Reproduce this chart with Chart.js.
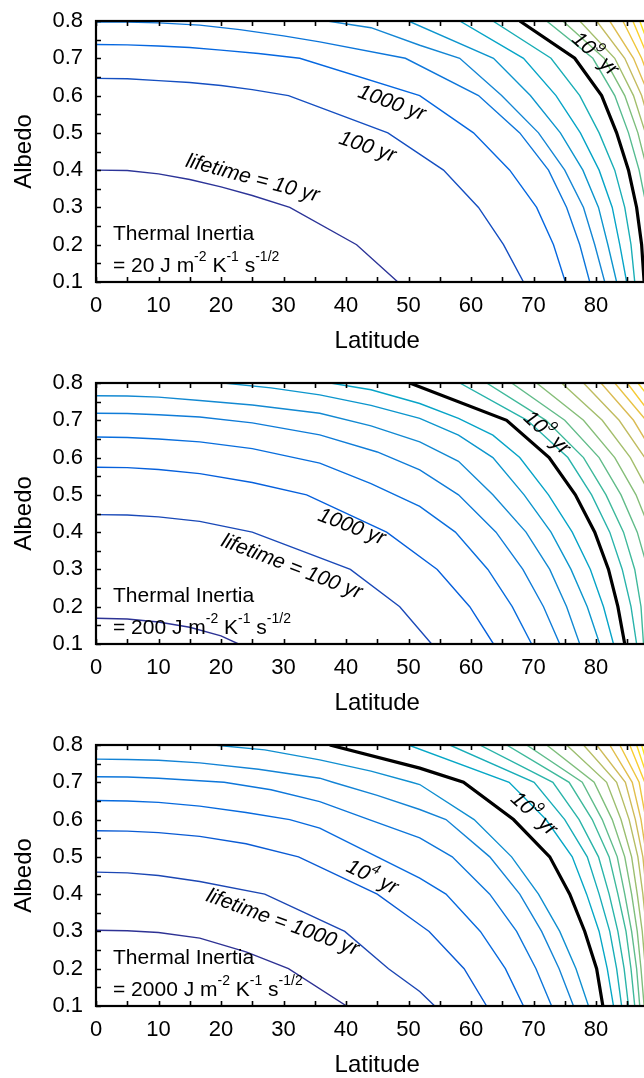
<!DOCTYPE html>
<html>
<head>
<meta charset="utf-8">
<script src="https://cdn.jsdelivr.net/npm/chart.js@4.4.0/dist/chart.umd.min.js"></script>
<style>
  html, body { margin: 0; padding: 0; background: #fff; overflow: hidden; width: 644px; height: 1078px; }
  .panel { position: absolute; left: 0; width: 700px; height: 360px; }
  canvas { display: block; }
</style>
</head>
<body>
<div class="panel" style="top:0px"><canvas id="c1" width="700" height="360"></canvas></div>
<div class="panel" style="top:362px"><canvas id="c2" width="700" height="360"></canvas></div>
<div class="panel" style="top:724px"><canvas id="c3" width="700" height="360"></canvas></div>
<script>
// axes
const latTicks = [0, 10, 20, 30, 40, 50, 60, 70, 80, 90];
const latMinor = [5, 15, 25, 35, 45, 55, 65, 75, 85];
const albedoTicks = [0.1, 0.2, 0.3, 0.4, 0.5, 0.6, 0.7, 0.8];
const albedoMinor = [0.15, 0.25, 0.35, 0.45, 0.55, 0.65, 0.75];

// contours, lifetime = 10^level yr, each line is [latitude, albedo] pairs
// thermal inertia 20
const ti20Levels = [1, 2, 3, 4, 5, 6, 7, 8, 9, 10, 11, 12, 13, 14, 15, 16, 17, 18];
const ti20Lines = [
  [[0,0.400],[5,0.399],[10,0.390],[15,0.375],[20,0.355],[25,0.332],[31,0.300],[41.7,0.200],[48.3,0.100]],
  [[0,0.646],[5,0.645],[10,0.640],[15,0.635],[20,0.627],[25,0.616],[30.8,0.600],[46.7,0.500],[55.6,0.400],[61.2,0.300],[65.2,0.200],[68.4,0.100]],
  [[0,0.737],[5,0.736],[10,0.733],[15,0.729],[20,0.722],[26,0.713],[32.6,0.700],[51.8,0.600],[60.4,0.500],[66.2,0.400],[70.5,0.300],[73.2,0.200],[75.1,0.100]],
  [[0,0.797],[5,0.797],[10,0.795],[16.6,0.789],[23,0.777],[30,0.760],[35.8,0.744],[49.5,0.700],[61.2,0.600],[67.8,0.500],[72.4,0.400],[75.3,0.300],[77.4,0.200],[79.0,0.100]],
  [[37,0.800],[44,0.782],[51.8,0.735],[58.2,0.700],[64.9,0.600],[70.8,0.500],[75.0,0.400],[78.0,0.300],[79.8,0.200],[81.4,0.100]],
  [[50,0.800],[63.6,0.700],[69.5,0.600],[74.3,0.500],[77.9,0.400],[80.4,0.300],[81.9,0.200],[83.3,0.100]],
  [[58.2,0.800],[68.4,0.700],[73.6,0.600],[77.5,0.500],[80.5,0.400],[82.6,0.300],[83.8,0.200],[84.9,0.100]],
  [[63.5,0.800],[72.8,0.700],[77.4,0.600],[80.5,0.500],[83.0,0.400],[84.6,0.300],[85.6,0.200],[86.2,0.100]],
  [[67.8,0.800],[76.6,0.700],[80.9,0.600],[83.3,0.500],[85.2,0.400],[86.5,0.300],[87.3,0.200],[87.7,0.100]],
  [[72.1,0.800],[79.5,0.700],[83.0,0.600],[85.2,0.500],[86.9,0.400],[88.1,0.300],[88.8,0.200],[89.2,0.100]],
  [[74.7,0.800],[81.3,0.700],[84.6,0.600],[86.7,0.500],[88.2,0.400],[89.2,0.300],[89.7,0.200],[90,0.150]],
  [[77.4,0.800],[83.0,0.700],[86.0,0.600],[87.9,0.500],[89.3,0.400],[90,0.330]],
  [[80.1,0.800],[84.6,0.700],[87.3,0.600],[89.0,0.500],[90,0.440]],
  [[82.2,0.800],[86.0,0.700],[88.5,0.600],[90,0.530]],
  [[84.3,0.800],[87.3,0.700],[89.5,0.600],[90,0.580]],
  [[85.9,0.800],[88.4,0.700],[90,0.630]],
  [[87.0,0.800],[89.2,0.700],[90,0.660]],
  [[88.0,0.800],[90,0.720]]
];

// thermal inertia 200
const ti200Levels = [1, 2, 3, 4, 5, 6, 7, 8, 9, 10, 11, 12, 13, 14, 15, 16, 17, 18, 19, 20];
const ti200Lines = [
  [[0,0.169],[5,0.167],[10,0.159],[15,0.145],[20,0.122],[22.8,0.100]],
  [[0,0.447],[5,0.446],[10,0.441],[16.6,0.429],[25,0.400],[40.7,0.300],[48.6,0.200],[53.7,0.100]],
  [[0,0.574],[5,0.573],[10,0.568],[16.6,0.557],[25,0.533],[33.7,0.500],[46.5,0.400],[54.6,0.300],[59.8,0.200],[63.6,0.100]],
  [[0,0.655],[5,0.654],[10,0.650],[16.6,0.642],[25,0.624],[35.8,0.585],[44,0.530],[51.8,0.469],[57.5,0.400],[62.7,0.300],[66.6,0.200],[69.7,0.100]],
  [[0,0.719],[5,0.718],[10,0.715],[16.6,0.709],[25,0.693],[35.8,0.661],[45,0.615],[51.8,0.567],[58,0.500],[64,0.400],[68.3,0.300],[71.6,0.200],[74.2,0.100]],
  [[0,0.766],[5,0.765],[10,0.762],[16.6,0.753],[25,0.741],[35.8,0.719],[44,0.685],[51.8,0.642],[58,0.590],[63.5,0.500],[68.8,0.400],[72.6,0.300],[75.3,0.200],[77.4,0.100]],
  [[20.4,0.800],[28,0.787],[35.8,0.768],[44,0.740],[51.8,0.705],[58,0.660],[63.5,0.600],[68.5,0.500],[72.8,0.400],[76,0.300],[78.6,0.200],[80.6,0.100]],
  [[37.5,0.800],[44,0.782],[51.8,0.745],[58,0.705],[63.5,0.660],[67.8,0.600],[72.4,0.500],[76.2,0.400],[79.1,0.300],[81.2,0.200],[82.8,0.100]],
  [[50.2,0.800],[65.7,0.700],[72.5,0.600],[76.7,0.500],[79.8,0.400],[82.0,0.300],[83.5,0.200],[84.6,0.100]],
  [[58.2,0.800],[69,0.700],[75.5,0.600],[79.3,0.500],[82.2,0.400],[84.2,0.300],[85.6,0.200],[86.5,0.100]],
  [[62.5,0.800],[72,0.700],[78,0.600],[81.6,0.500],[84.4,0.400],[86.2,0.300],[87.2,0.200],[87.6,0.100]],
  [[66.5,0.800],[75,0.700],[80.5,0.600],[84,0.500],[86.6,0.400],[88.3,0.300],[89.2,0.200],[89.6,0.100]],
  [[70.5,0.800],[78,0.700],[83,0.600],[86.4,0.500],[88.8,0.400],[90,0.330]],
  [[74.5,0.800],[81,0.700],[85.5,0.600],[88.7,0.500],[90,0.450]],
  [[78,0.800],[83.7,0.700],[87.8,0.600],[90,0.540]],
  [[80.8,0.800],[86,0.700],[89.6,0.600],[90,0.590]],
  [[83,0.800],[88,0.700],[90,0.650]],
  [[85,0.800],[89.5,0.700],[90,0.690]],
  [[86.7,0.800],[90,0.730]],
  [[88,0.800],[90,0.760]]
];

// thermal inertia 2000
const ti2000Levels = [2, 3, 4, 5, 6, 7, 8, 9, 10, 11, 12, 13, 14, 15, 16, 17, 18, 19, 20, 21, 22, 23, 24];
const ti2000Lines = [
  [[0,0.303],[5,0.302],[10,0.297],[16.6,0.282],[24,0.245],[30.8,0.200],[40.1,0.100]],
  [[0,0.459],[5,0.457],[10,0.450],[16.6,0.434],[27,0.400],[39.8,0.300],[46.8,0.200],[51.8,0.139],[54.2,0.100]],
  [[0,0.570],[5,0.569],[10,0.565],[16.6,0.555],[24,0.535],[32.4,0.500],[45,0.400],[51.8,0.318],[53.3,0.300],[58.9,0.200],[62.5,0.100]],
  [[0,0.651],[5,0.650],[10,0.646],[16.6,0.636],[24,0.619],[31,0.600],[35.8,0.577],[45,0.500],[51.8,0.443],[56,0.400],[61.5,0.300],[65.5,0.200],[68.4,0.100]],
  [[0,0.715],[5,0.714],[10,0.711],[20.5,0.700],[28,0.680],[35.8,0.648],[43.7,0.600],[51.8,0.551],[57,0.500],[63,0.400],[67.3,0.300],[70.4,0.200],[72.9,0.100]],
  [[0,0.762],[5,0.761],[10,0.759],[16.6,0.752],[26,0.735],[35.8,0.711],[37.9,0.700],[45,0.665],[51.8,0.627],[56,0.600],[63,0.500],[67.8,0.400],[71.3,0.300],[74.1,0.200],[76.4,0.100]],
  [[18.8,0.800],[27,0.787],[35.8,0.760],[44,0.730],[50.5,0.700],[51.8,0.694],[60.5,0.600],[66.5,0.500],[70.8,0.400],[74.2,0.300],[76.8,0.200],[78.8,0.100]],
  [[37.4,0.800],[51.8,0.738],[58.8,0.700],[66.8,0.600],[72.6,0.500],[75.8,0.400],[78.2,0.300],[80.1,0.200],[81.1,0.100]],
  [[50.0,0.800],[66.1,0.700],[72.0,0.600],[76.2,0.500],[78.5,0.400],[80.5,0.300],[81.8,0.200],[82.8,0.100]],
  [[56.6,0.800],[70.1,0.700],[75.0,0.600],[78.6,0.500],[80.5,0.400],[82.2,0.300],[83.3,0.200],[84.1,0.100]],
  [[61.4,0.800],[73.1,0.700],[77.3,0.600],[80.4,0.500],[82.1,0.400],[83.5,0.300],[84.5,0.200],[85.2,0.100]],
  [[65.7,0.800],[75.7,0.700],[79.4,0.600],[82.1,0.500],[83.5,0.400],[84.8,0.300],[85.6,0.200],[86.2,0.100]],
  [[68.9,0.800],[77.8,0.700],[81.0,0.600],[83.4,0.500],[84.6,0.400],[85.7,0.300],[86.5,0.200],[87.0,0.100]],
  [[72.1,0.800],[79.7,0.700],[82.6,0.600],[84.6,0.500],[85.7,0.400],[86.6,0.300],[87.2,0.200],[87.7,0.100]],
  [[75.3,0.800],[81.7,0.700],[84.0,0.600],[85.7,0.500],[86.6,0.400],[87.4,0.300],[87.9,0.200],[88.3,0.100]],
  [[78.0,0.800],[83.3,0.700],[85.3,0.600],[86.7,0.500],[87.5,0.400],[88.1,0.300],[88.6,0.200],[88.9,0.100]],
  [[80.1,0.800],[84.7,0.700],[86.3,0.600],[87.5,0.500],[88.1,0.400],[88.7,0.300],[89.0,0.200],[89.3,0.100]],
  [[82.2,0.800],[85.8,0.700],[87.2,0.600],[88.1,0.500],[88.6,0.400],[89.1,0.300],[89.4,0.200],[89.6,0.100]],
  [[83.8,0.800],[86.9,0.700],[88.0,0.600],[88.7,0.500],[89.1,0.400],[89.4,0.300],[89.7,0.200],[89.8,0.100]],
  [[85.4,0.800],[87.8,0.700],[88.6,0.600],[89.1,0.500],[89.5,0.400],[89.8,0.300],[90,0.220]],
  [[86.5,0.800],[88.5,0.700],[89.2,0.600],[89.6,0.500],[90,0.380]],
  [[87.3,0.800],[89.0,0.700],[89.6,0.600],[90,0.520]],
  [[88.0,0.800],[89.4,0.700],[90,0.610]]
];

// line labels (text, placed at latitude/albedo)
const ti20Labels = [
  { text: "lifetime = 10 yr", lat: 25.1, alb: 0.382, angle: 15 },
  { text: "100 yr", lat: 43.5, alb: 0.466, angle: 19 },
  { text: "1000 yr", lat: 47.4, alb: 0.584, angle: 20 },
  { text: "10^{9} yr", lat: 80.0, alb: 0.714, angle: 42 }
];
const ti200Labels = [
  { text: "lifetime = 100 yr", lat: 31.4, alb: 0.311, angle: 21 },
  { text: "1000 yr", lat: 41.0, alb: 0.418, angle: 21 },
  { text: "10^{9} yr", lat: 72.3, alb: 0.669, angle: 42 }
];
const ti2000Labels = [
  { text: "lifetime = 1000 yr", lat: 29.9, alb: 0.328, angle: 20 },
  { text: "10^{4} yr", lat: 44.3, alb: 0.449, angle: 26 },
  { text: "10^{9} yr", lat: 70.2, alb: 0.618, angle: 42 }
];

const FONT = '"Liberation Sans", Arial, Helvetica, sans-serif';
const parula = ['#352a87', '#0363e1', '#1485d4', '#06a7c6', '#38b99e', '#92bf73', '#d9ba56', '#fcce2e', '#f9fb0e'];

function hexToRgb(h) {
  return [parseInt(h.slice(1, 3), 16), parseInt(h.slice(3, 5), 16), parseInt(h.slice(5, 7), 16)];
}

function levelColor(level, lo, hi) {
  let t = (level - lo) / (hi - lo);
  t = Math.max(0, Math.min(1, t));
  const pos = t * (parula.length - 1);
  const i = Math.min(Math.floor(pos), parula.length - 2);
  const f = pos - i;
  const a = hexToRgb(parula[i]), b = hexToRgb(parula[i + 1]);
  const c = a.map((v, k) => Math.round(v + (b[k] - v) * f));
  return `rgb(${c[0]},${c[1]},${c[2]})`;
}

// split "m^{-2}" style text into normal / superscript parts
function parseRich(str) {
  const parts = [];
  const re = /\^\{([^}]*)\}/g;
  let last = 0, m;
  while ((m = re.exec(str)) !== null) {
    if (m.index > last) parts.push({ t: str.slice(last, m.index) });
    parts.push({ t: m[1], sup: true });
    last = re.lastIndex;
  }
  if (last < str.length) parts.push({ t: str.slice(last) });
  return parts;
}

function drawRich(ctx, str, x, y, angle, size, italic, align) {
  const parts = parseRich(str);
  const base = (italic ? 'italic ' : '') + size + 'px ' + FONT;
  const sup = (italic ? 'italic ' : '') + Math.round(size * 0.68) + 'px ' + FONT;
  let w = 0;
  parts.forEach(p => { ctx.font = p.sup ? sup : base; p.w = ctx.measureText(p.t).width; w += p.w; });
  ctx.save();
  ctx.translate(x, y);
  ctx.rotate(angle * Math.PI / 180);
  ctx.fillStyle = '#000';
  ctx.textBaseline = 'alphabetic';
  ctx.textAlign = 'left';
  let cx = align === 'left' ? 0 : -w / 2;
  const by = align === 'left' ? 0 : size * 0.36;
  parts.forEach(p => {
    ctx.font = p.sup ? sup : base;
    ctx.fillText(p.t, cx, p.sup ? by - size * 0.5 : by);
    cx += p.w;
  });
  ctx.restore();
}

// inward ticks, frame, labels
const decorPlugin = {
  id: 'decor',
  afterDatasetsDraw(chart, args, opts) {
    const { ctx, chartArea: a, scales: { x, y } } = chart;
    ctx.save();
    ctx.strokeStyle = '#000';
    ctx.lineWidth = 1.6;
    ctx.beginPath();
    latTicks.concat(latMinor).forEach(v => {
      const px = Math.round(x.getPixelForValue(v)) + 0.5;
      ctx.moveTo(px, a.bottom); ctx.lineTo(px, a.bottom - 5);
      ctx.moveTo(px, a.top); ctx.lineTo(px, a.top + 5);
    });
    albedoTicks.concat(albedoMinor).forEach(v => {
      const py = Math.round(y.getPixelForValue(v)) + 0.5;
      ctx.moveTo(a.left, py); ctx.lineTo(a.left + 5, py);
      ctx.moveTo(a.right, py); ctx.lineTo(a.right - 5, py);
    });
    ctx.stroke();
    ctx.lineWidth = 2.2;
    ctx.strokeRect(a.left, a.top, a.right - a.left, a.bottom - a.top);
    ctx.restore();

    opts.labels.forEach(l => {
      drawRich(ctx, l.text, x.getPixelForValue(l.lat), y.getPixelForValue(l.alb), l.angle, 21, true, 'center');
    });
    drawRich(ctx, 'Thermal Inertia', a.left + 17, a.top + 219, 0, 21, false, 'left');
    drawRich(ctx, '= ' + opts.inertia + ' J m^{-2} K^{-1} s^{-1/2}', a.left + 17, a.top + 250.5, 0, 21, false, 'left');
  }
};

function makePanel(id, levels, lines, colorRange, labels, inertia) {
  const datasets = lines.map((pts, i) => {
    const lv = levels[i];
    const black = lv === 9;
    return {
      data: pts.map(p => ({ x: p[0], y: p[1] })),
      showLine: true,
      borderColor: black ? '#000' : levelColor(lv, colorRange[0], colorRange[1]),
      borderWidth: black ? 3.2 : 1.4,
      pointRadius: 0,
      pointHoverRadius: 0,
      tension: 0,
      fill: false,
      order: black ? 0 : 1
    };
  });

  new Chart(document.getElementById(id), {
    type: 'scatter',
    data: { datasets },
    options: {
      responsive: false,
      animation: false,
      devicePixelRatio: 1,
      layout: { autoPadding: false, padding: { top: 21, left: 0, right: 41.5, bottom: 0 } },
      plugins: {
        legend: { display: false },
        tooltip: { enabled: false },
        decor: { labels, inertia }
      },
      scales: {
        x: {
          type: 'linear', min: 0, max: 90,
          grid: { display: false, drawTicks: false },
          border: { display: false },
          afterBuildTicks: s => { s.ticks = latTicks.map(v => ({ value: v })); },
          afterFit: s => { s.height = 78; s.paddingLeft = 0; s.paddingRight = 0; },
          ticks: { color: '#000', font: { size: 22, family: FONT }, padding: 11, autoSkip: false, maxRotation: 0 },
          title: { display: true, text: 'Latitude', color: '#000', font: { size: 24, family: FONT }, padding: { top: 0, bottom: 4 } }
        },
        y: {
          type: 'linear', min: 0.1, max: 0.8,
          grid: { display: false, drawTicks: false },
          border: { display: false },
          afterBuildTicks: s => { s.ticks = albedoTicks.map(v => ({ value: v })); },
          afterFit: s => { s.width = 96; s.paddingTop = 0; s.paddingBottom = 0; },
          ticks: { color: '#000', font: { size: 22, family: FONT }, padding: 13, callback: v => v.toFixed(1) },
          title: { display: true, text: 'Albedo', color: '#000', font: { size: 24, family: FONT }, padding: { top: 10, bottom: 0 } }
        }
      }
    },
    plugins: [decorPlugin]
  });
}

makePanel('c1', ti20Levels, ti20Lines, [0.6, 18], ti20Labels, '20');
makePanel('c2', ti200Levels, ti200Lines, [0.6, 21], ti200Labels, '200');
makePanel('c3', ti2000Levels, ti2000Lines, [1.6, 24], ti2000Labels, '2000');
</script>
</body>
</html>
